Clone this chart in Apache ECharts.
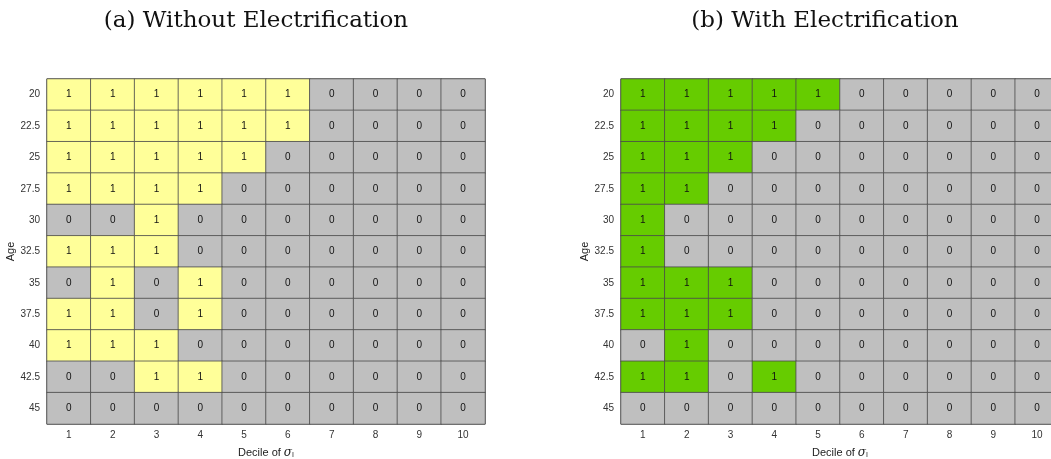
<!DOCTYPE html>
<html>
<head>
  <meta charset="utf-8">
</head>
<body style="margin: 0">
  <div id="container" style="width: 1051px; height: 459px"></div>
  <script src="https://cdn.jsdelivr.net/npm/echarts@6/dist/echarts.min.js"></script>
  <script>
    var deciles = ['1', '2', '3', '4', '5', '6', '7', '8', '9', '10'];
    var ages = ['20', '22.5', '25', '27.5', '30', '32.5', '35', '37.5', '40', '42.5', '45'];

    // rows = ages (top to bottom), cols = deciles
    var withoutElec = [
      [1, 1, 1, 1, 1, 1, 0, 0, 0, 0],
      [1, 1, 1, 1, 1, 1, 0, 0, 0, 0],
      [1, 1, 1, 1, 1, 0, 0, 0, 0, 0],
      [1, 1, 1, 1, 0, 0, 0, 0, 0, 0],
      [0, 0, 1, 0, 0, 0, 0, 0, 0, 0],
      [1, 1, 1, 0, 0, 0, 0, 0, 0, 0],
      [0, 1, 0, 1, 0, 0, 0, 0, 0, 0],
      [1, 1, 0, 1, 0, 0, 0, 0, 0, 0],
      [1, 1, 1, 0, 0, 0, 0, 0, 0, 0],
      [0, 0, 1, 1, 0, 0, 0, 0, 0, 0],
      [0, 0, 0, 0, 0, 0, 0, 0, 0, 0]
    ];
    var withElec = [
      [1, 1, 1, 1, 1, 0, 0, 0, 0, 0],
      [1, 1, 1, 1, 0, 0, 0, 0, 0, 0],
      [1, 1, 1, 0, 0, 0, 0, 0, 0, 0],
      [1, 1, 0, 0, 0, 0, 0, 0, 0, 0],
      [1, 0, 0, 0, 0, 0, 0, 0, 0, 0],
      [1, 0, 0, 0, 0, 0, 0, 0, 0, 0],
      [1, 1, 1, 0, 0, 0, 0, 0, 0, 0],
      [1, 1, 1, 0, 0, 0, 0, 0, 0, 0],
      [0, 1, 0, 0, 0, 0, 0, 0, 0, 0],
      [1, 1, 0, 1, 0, 0, 0, 0, 0, 0],
      [0, 0, 0, 0, 0, 0, 0, 0, 0, 0]
    ];

    function toCells(m) {
      var out = [];
      m.forEach(function (row, i) {
        row.forEach(function (v, j) {
          out.push([j, i, v]);
        });
      });
      return out;
    }

    var labelFont = 'Liberation Sans';

    function xAx(idx) {
      return {
        type: 'category', gridIndex: idx, data: deciles,
        axisLine: { show: false }, axisTick: { show: false },
        axisLabel: { color: '#333', fontSize: 10, fontFamily: labelFont, margin: 6 },
        name: 'Decile of {s|σ}{sub|I}', nameLocation: 'middle', nameGap: 22,
        nameTextStyle: {
          color: '#222', fontSize: 11, fontFamily: labelFont,
          rich: {
            s: { fontSize: 12, fontFamily: 'DejaVu Serif', fontStyle: 'italic', color: '#222' },
            sub: { fontSize: 7, fontFamily: labelFont, color: '#222', verticalAlign: 'bottom', padding: [6, 0, 0, 0] }
          }
        }
      };
    }
    function yAx(idx) {
      return {
        type: 'category', gridIndex: idx, data: ages, inverse: true,
        axisLine: { show: false }, axisTick: { show: false },
        axisLabel: { color: '#333', fontSize: 10, fontFamily: labelFont, margin: 7 },
        name: 'Age', nameLocation: 'middle', nameGap: 30, nameRotate: 90,
        nameTextStyle: { color: '#222', fontSize: 11, fontFamily: labelFont }
      };
    }
    function hm(idx, data) {
      return {
        type: 'heatmap', xAxisIndex: idx, yAxisIndex: idx, data: toCells(data),
        label: { show: true, color: '#111', fontSize: 10, fontFamily: labelFont },
        itemStyle: { borderColor: '#4a4a4a', borderWidth: 0.8 },
        emphasis: { disabled: true }
      };
    }

    var titleStyle = { fontFamily: 'DejaVu Serif', fontWeight: 'normal', fontSize: 23, color: '#111' };

    var chart = echarts.init(document.getElementById('container'));
    chart.setOption({
      animation: false,
      backgroundColor: '#fff',
      title: [
        { text: '(a) Without Electrification', left: 251, top: 5, textAlign: 'center', textStyle: titleStyle },
        { text: '(b) With Electrification', left: 820, top: 5, textAlign: 'center', textStyle: titleStyle }
      ],
      grid: [
        { left: 47, width: 438, top: 79, height: 345, outerBoundsMode: 'none', containLabel: false,
          show: true, borderColor: '#4a4a4a', borderWidth: 1 },
        { left: 621, width: 438, top: 79, height: 345, outerBoundsMode: 'none', containLabel: false,
          show: true, borderColor: '#4a4a4a', borderWidth: 1 }
      ],
      xAxis: [xAx(0), xAx(1)],
      yAxis: [yAx(0), yAx(1)],
      visualMap: [
        { type: 'piecewise', show: false, seriesIndex: 0, dimension: 2,
          pieces: [{ value: 0, color: '#bfbfbf' }, { value: 1, color: '#ffff99' }] },
        { type: 'piecewise', show: false, seriesIndex: 1, dimension: 2,
          pieces: [{ value: 0, color: '#bfbfbf' }, { value: 1, color: '#66cc00' }] }
      ],
      series: [hm(0, withoutElec), hm(1, withElec)]
    });
  </script>
</body>
</html>
